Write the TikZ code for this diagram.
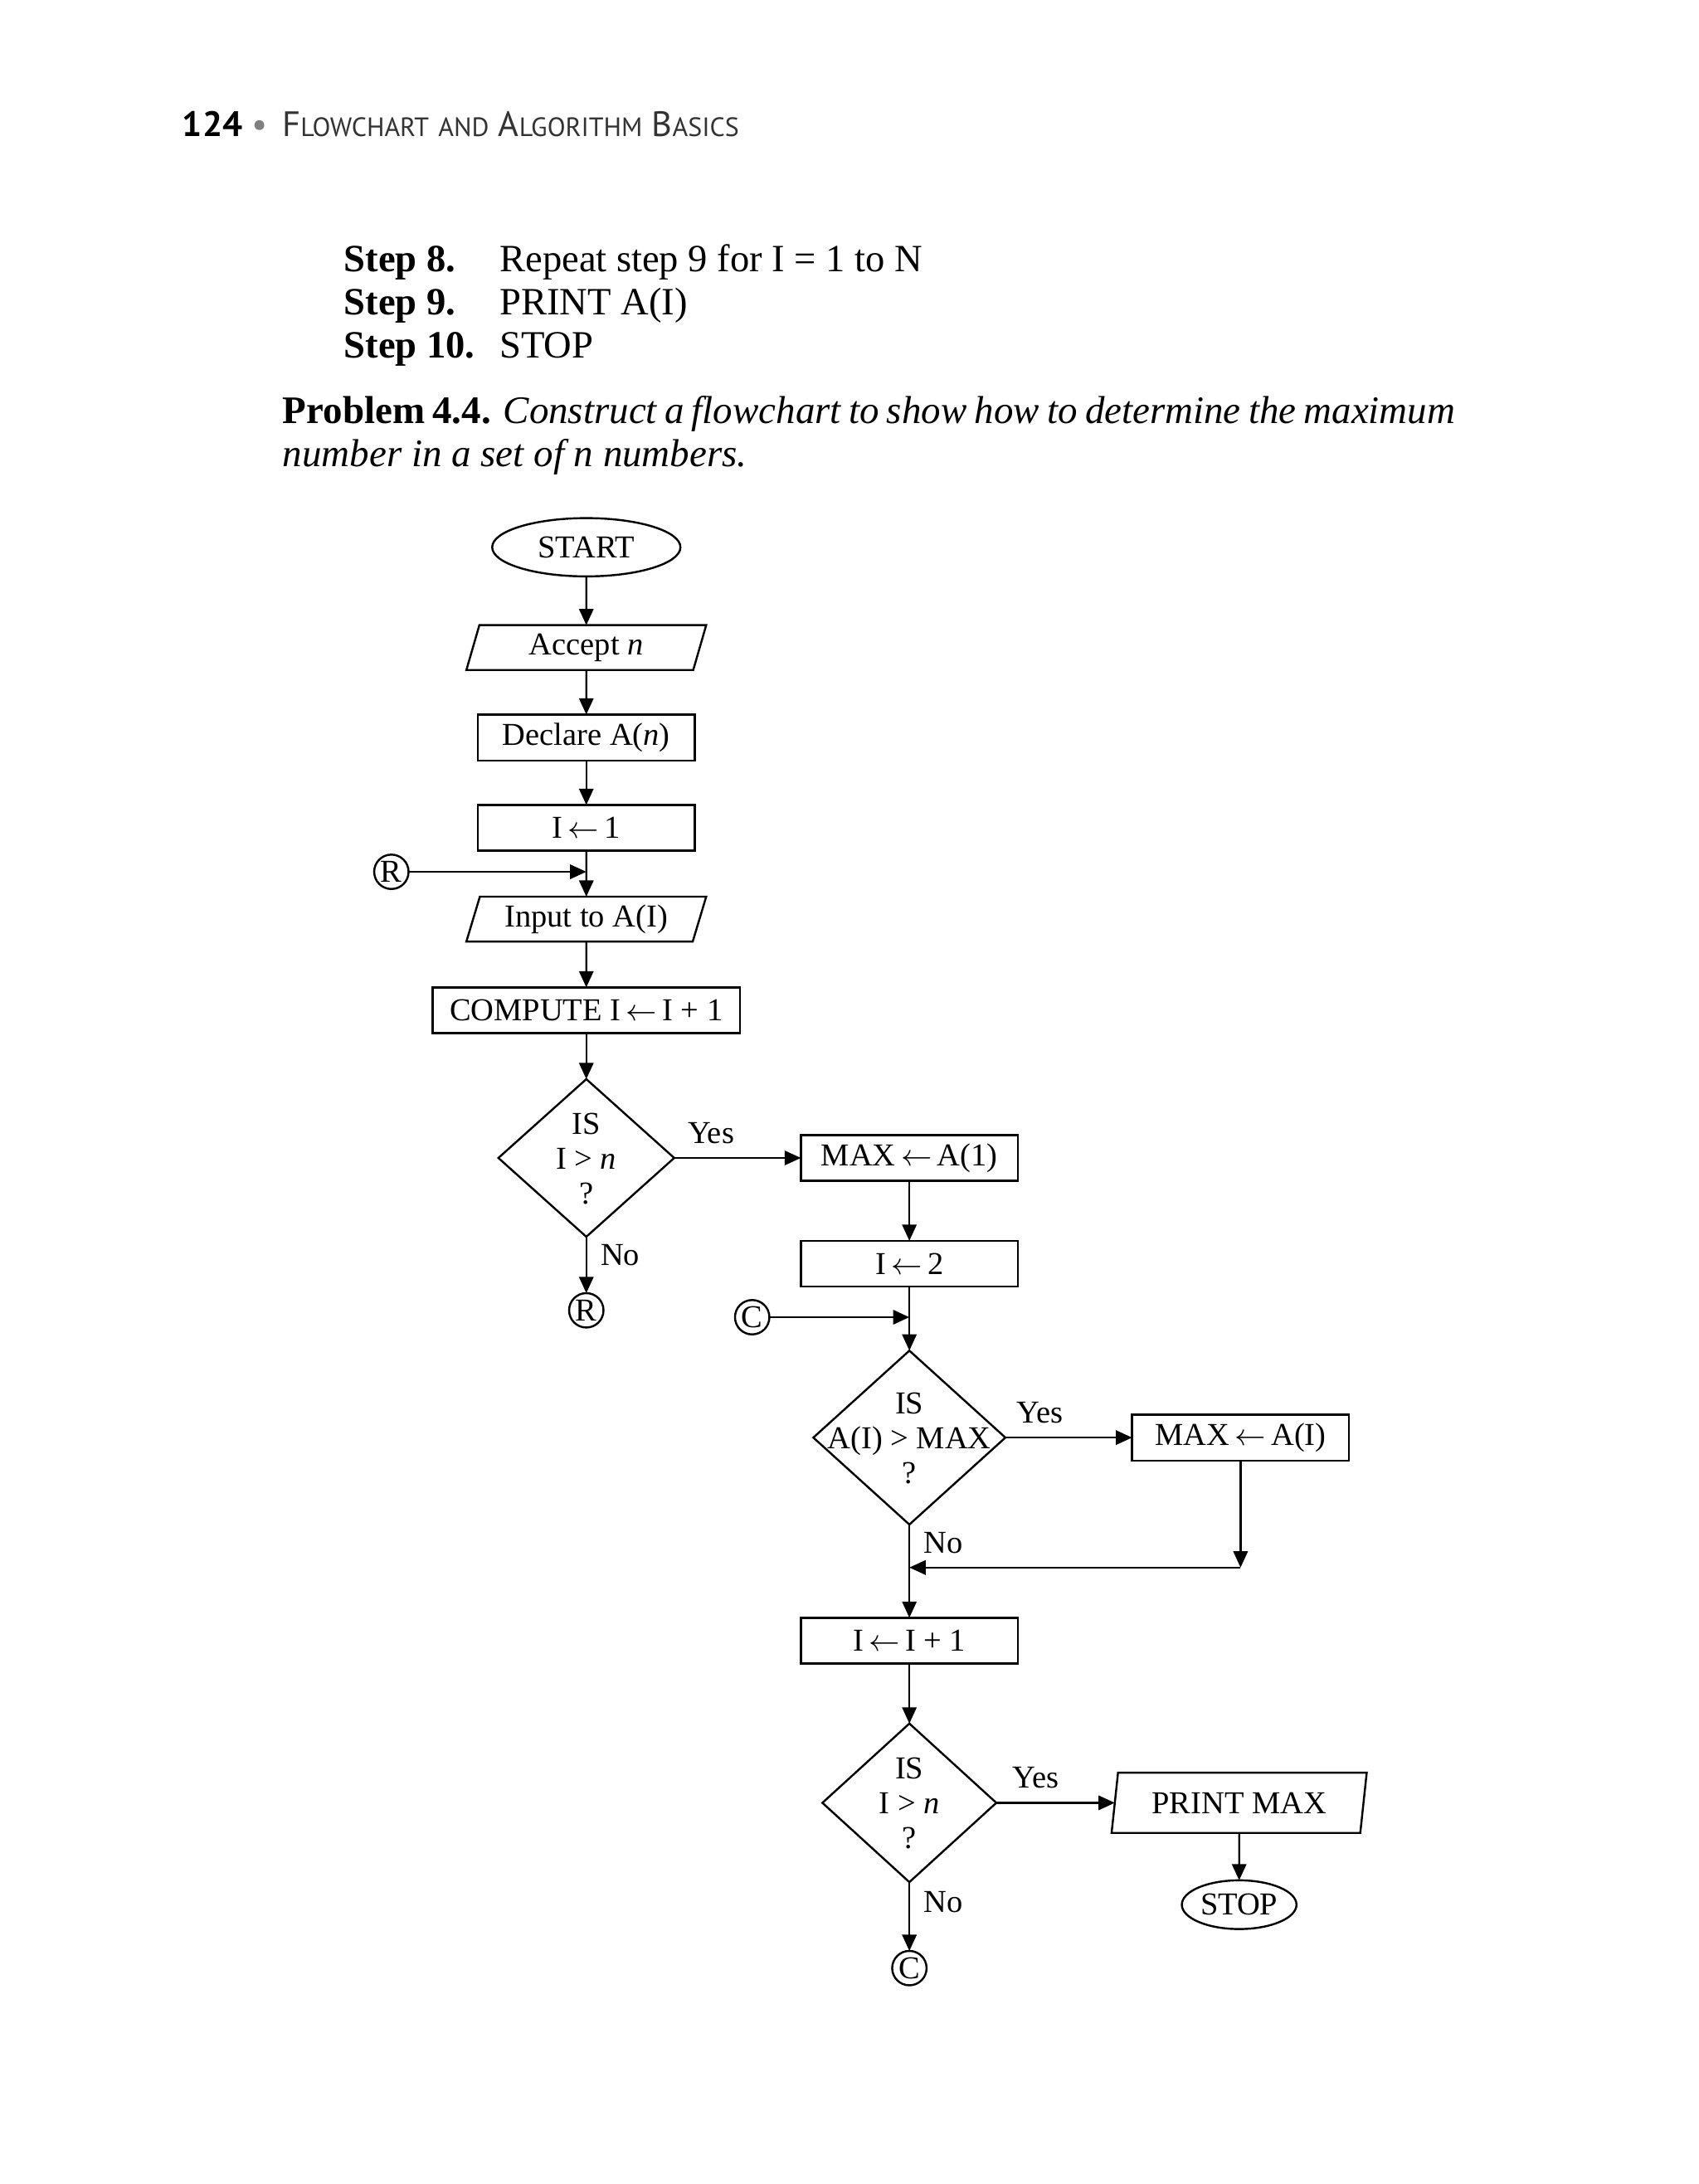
\documentclass[tikz,border=0pt]{standalone}
\usepackage{fontspec}
\setmainfont{Liberation Serif}
\newfontfamily\headsans{PT Sans}
\usepackage{xcolor}
\usetikzlibrary{shapes.geometric}
\usetikzlibrary{positioning}
\usetikzlibrary{arrows.meta}
\tikzset{>={Triangle[length=1.7mm,width=1.5mm]}}
\newcommand{\hdsc}[2]{{\fontsize{10.5}{13}\selectfont #1}{\fontsize{7.9}{10}\selectfont #2}}
\newcommand{\ask}[1]{\makebox[0pt]{\begin{tabular}{@{}c@{}}\rule{0pt}{9.7pt}IS\\#1\\?\end{tabular}}}
\newcommand{\assign}{\,$\leftarrow$\,}

\begin{document}
\begin{tikzpicture}
	[line width=0.6pt, inner sep=0pt, outer sep=0pt,
	every node/.style={font=\fontsize{9.5}{10.4}\selectfont},
	terminal/.style={ellipse,draw,minimum width=19.7mm,minimum height=6.1mm},
	io/.style={trapezium,trapezium left angle=65,trapezium right angle=115,trapezium stretches body,draw,minimum width=25.1mm,minimum height=4.7mm},
	process/.style={rectangle,draw,minimum width=22.7mm,minimum height=4.8mm},
	decision/.style={diamond,draw,minimum width=18.4mm,minimum height=16.5mm},
	connector/.style={circle,draw,minimum size=3.6mm},
	plain/.style={inner sep=1.5mm}]
	\useasboundingbox[fill=white] (0,0) rectangle (177.8mm,-228.6mm);
	% page text
	\node [anchor=base west,font=\headsans\fontsize{10.5}{13}\selectfont] (header) at (19.1mm,-14.3mm)
	  {\textbf{124}\hspace{1.0mm}\textcolor{gray}{\textbullet}\hspace{1.5mm}\textcolor{black!80}{\hdsc{F}{LOWCHART} \hdsc{}{AND} \hdsc{A}{LGORITHM} \hdsc{B}{ASICS}}};
	\node [anchor=base west,font=\fontsize{11.5}{12.85}\selectfont] (steps) at (36mm,-28.4mm)
	  {\begin{tabular}[t]{@{}l@{\hspace{2.6mm}}l@{}}\textbf{Step 8.} & Repeat step 9 for I = 1 to N\\ \textbf{Step 9.} & PRINT A(I)\\ \textbf{Step 10.} & STOP\end{tabular}};
	\node [anchor=base west,font=\fontsize{11.6}{12.85}\selectfont] (problem) at (29.6mm,-44.3mm)
	  {\parbox[t]{122.7mm}{\textbf{Problem 4.4.} \textit{Construct a flowchart to show how to determine the maximum\linebreak number in a set of n numbers.}}};
	% left column
	\node [terminal] (start) at (61.36mm,-57.28mm) {START};
	\node [io] (accept) [below=5.1mm of start] {Accept \textit{n}};
	\node [process] (declare) [below=4.66mm of accept] {Declare A(\textit{n})};
	\node [process] (init) [below=4.66mm of declare] {I\assign 1};
	\node [io] (input) [below=4.8mm of init] {Input to A(I)};
	\node [process,minimum width=32.2mm] (compute) [below=4.8mm of input] {COMPUTE I\assign I + 1};
	\node [decision] (ask1) [below=4.8mm of compute] {\ask{I > \textit{n}}};
	\node [connector] (r2) [below=5.9mm of ask1] {R};
	\coordinate [below=2.2mm of init.south] (rjoin);
	\node [connector] (r1) [left=18.6mm of rjoin] {R};
	% right column
	\node [process] (max1) [right=13.26mm of ask1] {MAX\assign A(1)};
	\node [process] (two) [below=6.27mm of max1] {I\assign 2};
	\coordinate [below=3.2mm of two.south] (cjoin);
	\node [connector] (c1) [left=14.65mm of cjoin] {C};
	\node [decision,minimum width=20.1mm,minimum height=18.2mm] (ask2) [below=6.7mm of two] {\ask{A(I) > MAX}};
	\node [process] (maxi) [right=13.26mm of ask2] {MAX\assign A(I)};
	\coordinate [below=11.2mm of maxi.south] (back);
	\node [process] (inc) [below=9.76mm of ask2] {I\assign I + 1};
	\node [decision,minimum width=18.2mm,minimum height=16.6mm] (ask3) [below=6.27mm of inc] {\ask{I > \textit{n}}};
	\node [connector] (c2) [below=7.2mm of ask3] {C};
	\node [io,trapezium left angle=73,trapezium right angle=107,minimum width=26.7mm,minimum height=6.3mm] (print) [right=12.4mm of ask3] {PRINT MAX};
	\node [terminal,minimum width=12mm,minimum height=5.1mm] (stop) [below=4.96mm of print] {STOP};
	% connectors
	\draw [->] (start) -- (accept);
	\draw [->] (accept) -- (declare);
	\draw [->] (declare) -- (init);
	\draw [->] (init) -- (input);
	\draw [->] (r1) -- (rjoin);
	\draw [->] (input) -- (compute);
	\draw [->] (compute) -- (ask1);
	\draw [->] (ask1) -- node [plain,above,pos=0.29] (yes1) {Yes} (max1);
	\draw [->] (ask1) -- node [plain,right,pos=0.33] (no1) {No} (r2);
	\draw [->] (max1) -- (two);
	\draw [->] (two) -- (ask2);
	\draw [->] (c1) -- (cjoin);
	\draw [->] (ask2.east) -- node [plain,above,pos=0.27] (yes2) {Yes} (ask2.east -| maxi.west);
	\draw [->] (maxi) -- (back);
	\draw [->] (back) -- (back -| ask2.south);
	\draw [->] (ask2) -- node [plain,right,pos=0.2] (no2) {No} (inc);
	\draw [->] (inc) -- (ask3);
	\draw [->] (ask3.east) -- node [plain,above,pos=0.33] (yes3) {Yes} (ask3.east -| print.west);
	\draw [->] (ask3) -- node [plain,right,pos=0.29] (no3) {No} (c2);
	\draw [->] (print) -- (stop);
\end{tikzpicture}
\end{document}
